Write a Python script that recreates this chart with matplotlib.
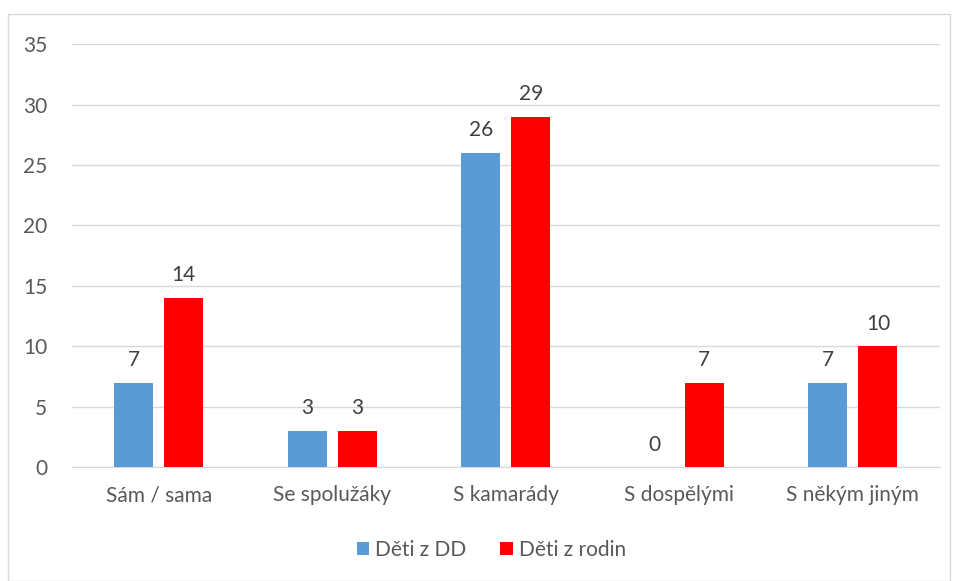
import matplotlib.pyplot as plt
import numpy as np
from matplotlib.patches import Rectangle

categories = ['Sám / sama', 'Se spolužáky', 'S kamarády', 'S dospělými', 'S někým jiným']
deti_dd = [7, 3, 26, 0, 7]
deti_rodin = [14, 3, 29, 7, 10]
series_names = ['Děti z DD', 'Děti z rodin']

plt.rcParams['font.family'] = ['Lato', 'DejaVu Sans']

fig = plt.figure(figsize=(9.54, 5.81), dpi=100)
ax = fig.add_axes([0.0755, 0.196, 0.9095, 0.728])

# chart border
fig.patches.append(Rectangle((8/954, 0), 942/954, 1 - 14/581, transform=fig.transFigure,
                             fill=False, edgecolor='#d9d9d9', lw=1))

x = np.arange(len(categories))
w = 0.225
off = 0.144
b1 = ax.bar(x - off, deti_dd, w, color='#5b9bd5', label=series_names[0], zorder=3)
b2 = ax.bar(x + off, deti_rodin, w, color='#ff0000', label=series_names[1], zorder=3)

for bars, vals in ((b1, deti_dd), (b2, deti_rodin)):
    for r, v in zip(bars, vals):
        ax.annotate(str(v), (r.get_x() + r.get_width()/2, v), xytext=(0, 9),
                    textcoords='offset points', ha='center', va='bottom',
                    fontsize=15, color='#404040')

ax.set_xlim(-0.5, 4.5)
ax.set_ylim(0, 35)
ax.set_yticks(range(0, 36, 5))
ax.set_xticks(x)
ax.set_xticklabels(categories)
ax.yaxis.grid(True, color='#d9d9d9', lw=1, zorder=0)
for s in ['top', 'right', 'left']:
    ax.spines[s].set_visible(False)
ax.spines['bottom'].set_color('#d9d9d9')
ax.tick_params(axis='both', length=0, labelsize=15, colors='#595959')
ax.tick_params(axis='y', pad=18)
ax.tick_params(axis='x', pad=13)

fig.legend(handles=[b1, b2], loc='center', bbox_to_anchor=(0.515, 1 - 550/581), ncol=2,
           frameon=False, fontsize=15, labelcolor='#595959', handlelength=0.6,
           handleheight=0.6, handletextpad=0.3, columnspacing=1.6)

fig.savefig('out.png', dpi=100)
